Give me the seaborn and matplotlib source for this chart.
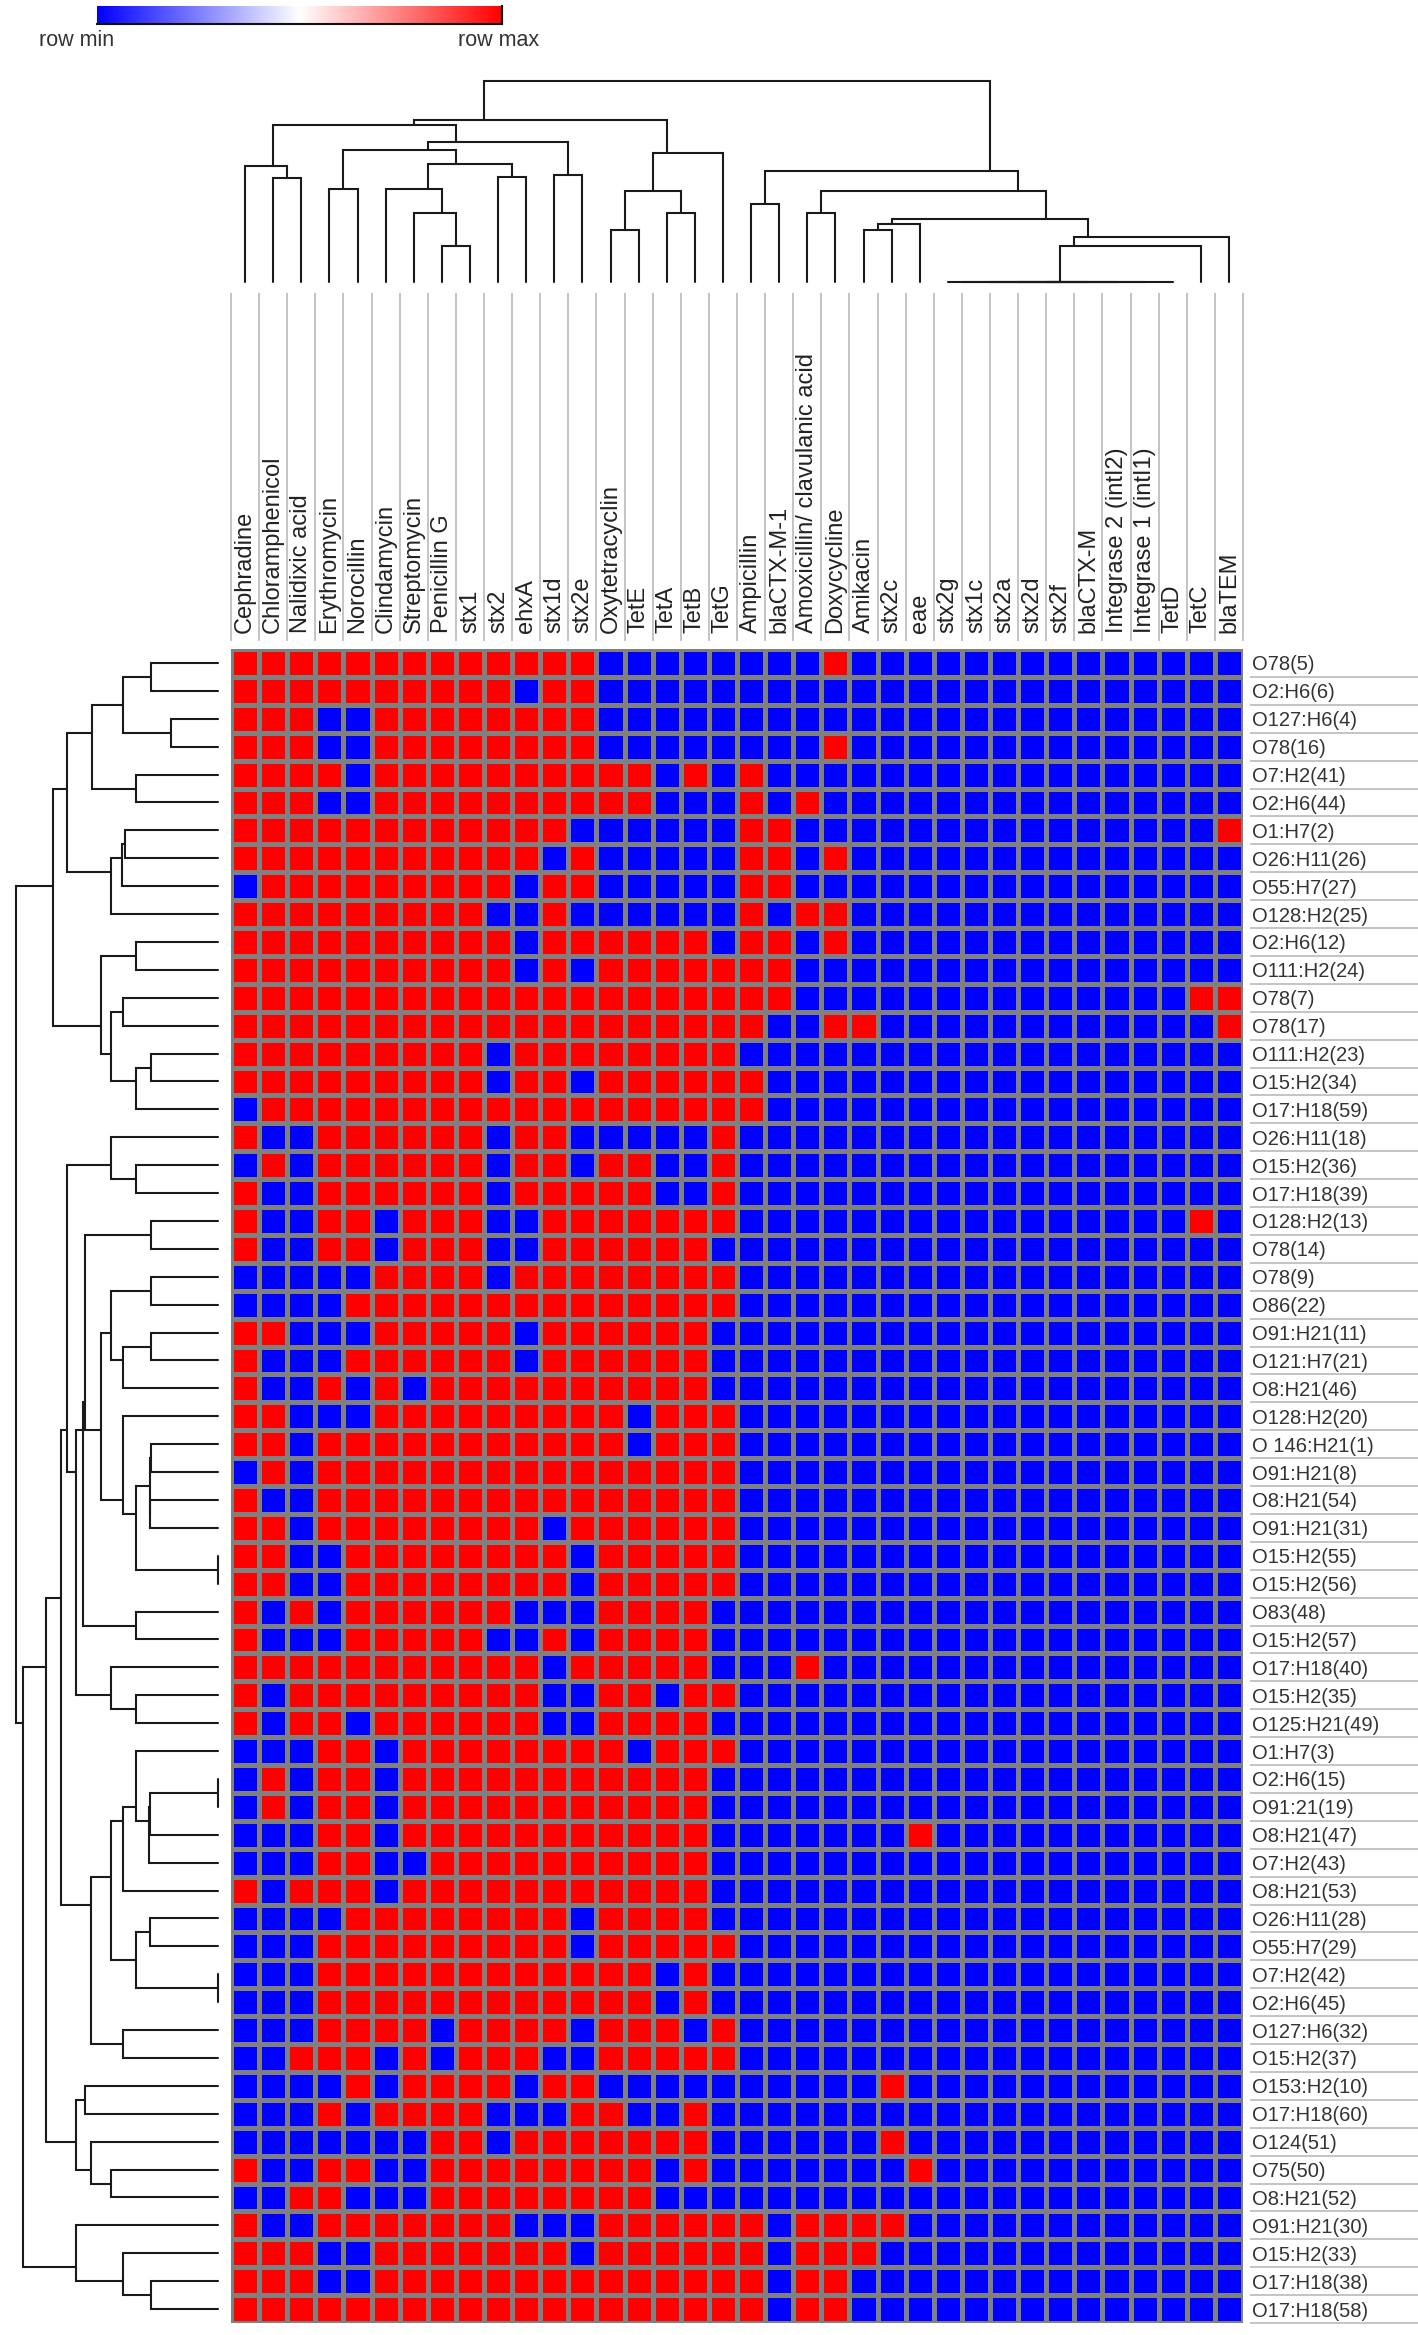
import numpy as np
import pandas as pd
import matplotlib
matplotlib.use("Agg")
import matplotlib.pyplot as plt
import seaborn as sns
from matplotlib.colors import ListedColormap, LinearSegmentedColormap

sns.set_style("white")
plt.rcParams['font.family'] = ['Liberation Sans', 'DejaVu Sans']

# ---------------- data ----------------
columns = ["Cephradine", "Chloramphenicol", "Nalidixic acid", "Erythromycin", "Norocillin",
           "Clindamycin", "Streptomycin", "Penicillin G", "stx1", "stx2", "ehxA", "stx1d",
           "stx2e", "Oxytetracyclin", "TetE", "TetA", "TetB", "TetG", "Ampicillin",
           "blaCTX-M-1", "Amoxicillin/ clavulanic acid", "Doxycycline", "Amikacin", "stx2c",
           "eae", "stx2g", "stx1c", "stx2a", "stx2d", "stx2f", "blaCTX-M",
           "Integrase 2 (intI2)", "Integrase 1 (intI1)", "TetD", "TetC", "blaTEM"]

rows = ["O78(5)", "O2:H6(6)", "O127:H6(4)", "O78(16)", "O7:H2(41)", "O2:H6(44)", "O1:H7(2)",
        "O26:H11(26)", "O55:H7(27)", "O128:H2(25)", "O2:H6(12)", "O111:H2(24)", "O78(7)",
        "O78(17)", "O111:H2(23)", "O15:H2(34)", "O17:H18(59)", "O26:H11(18)", "O15:H2(36)",
        "O17:H18(39)", "O128:H2(13)", "O78(14)", "O78(9)", "O86(22)", "O91:H21(11)",
        "O121:H7(21)", "O8:H21(46)", "O128:H2(20)", "O 146:H21(1)", "O91:H21(8)",
        "O8:H21(54)", "O91:H21(31)", "O15:H2(55)", "O15:H2(56)", "O83(48)", "O15:H2(57)",
        "O17:H18(40)", "O15:H2(35)", "O125:H21(49)", "O1:H7(3)", "O2:H6(15)", "O91:21(19)",
        "O8:H21(47)", "O7:H2(43)", "O8:H21(53)", "O26:H11(28)", "O55:H7(29)", "O7:H2(42)",
        "O2:H6(45)", "O127:H6(32)", "O15:H2(37)", "O153:H2(10)", "O17:H18(60)", "O124(51)",
        "O75(50)", "O8:H21(52)", "O91:H21(30)", "O15:H2(33)", "O17:H18(38)", "O17:H18(58)"]

# 1 = row max (red), 0 = row min (blue); groups of six columns
presence = [
    "111111 111111 100000 000100 000000 000000",
    "111111 111101 100000 000000 000000 000000",
    "111001 111111 100000 000000 000000 000000",
    "111001 111111 100000 000100 000000 000000",
    "111101 111111 111010 100000 000000 000000",
    "111001 111111 111000 101000 000000 000000",
    "111111 111111 000000 110000 000000 000001",
    "111111 111110 100000 110100 000000 000000",
    "011111 111101 100000 110000 000000 000000",
    "111111 111001 000000 101100 000000 000000",
    "111111 111101 111110 110100 000000 000000",
    "111111 111101 011111 110000 000000 000000",
    "111111 111111 111111 110000 000000 000011",
    "111111 111111 111111 100110 000000 000001",
    "111111 111011 111111 000000 000000 000000",
    "111111 111011 011111 100000 000000 000000",
    "011111 111111 111111 100000 000000 000000",
    "100111 111011 000001 000000 000000 000000",
    "010111 111011 011001 000000 000000 000000",
    "100111 111011 111001 000000 000000 000000",
    "100110 111001 111111 000000 000000 000010",
    "100110 111001 111110 000000 000000 000000",
    "000001 111011 111111 000000 000000 000000",
    "000011 111111 111111 000000 000000 000000",
    "110001 111101 111110 000000 000000 000000",
    "100011 111101 111110 000000 000000 000000",
    "100101 011111 111110 000000 000000 000000",
    "110001 111111 110111 000000 000000 000000",
    "110111 111111 110111 000000 000000 000000",
    "010111 111111 111111 000000 000000 000000",
    "100111 111111 111111 000000 000000 000000",
    "110111 111110 111111 000000 000000 000000",
    "110011 111111 011111 000000 000000 000000",
    "110011 111111 011111 000000 000000 000000",
    "101011 111100 011110 000000 000000 000000",
    "100011 111001 011110 000000 000000 000000",
    "111111 111110 111110 001000 000000 000000",
    "101111 111110 011011 000000 000000 000000",
    "101101 111110 011110 000000 000000 000000",
    "000110 111111 110111 000000 000000 000000",
    "010110 111111 111110 000000 000000 000000",
    "010110 111111 111110 000000 000000 000000",
    "000110 111111 111110 000000 100000 000000",
    "000110 011111 111110 000000 000000 000000",
    "101110 111111 111110 000000 000000 000000",
    "000011 111111 011110 000000 000000 000000",
    "000111 111111 011111 000000 000000 000000",
    "000111 111111 111010 000000 000000 000000",
    "000111 111111 111010 000000 000000 000000",
    "000111 101111 011101 000000 000000 000000",
    "001110 101110 011111 000000 000000 000000",
    "000010 111101 100000 000001 000000 000000",
    "000101 111000 110010 000000 000000 000000",
    "000000 011011 111110 000001 000000 000000",
    "100110 011111 111010 000000 100000 000000",
    "001100 011111 111000 000000 000000 000000",
    "100111 111100 011111 101111 000000 000000",
    "111001 111111 011111 101110 000000 000000",
    "111001 111111 111111 101100 000000 000000",
    "111111 111111 111111 101100 000000 000000",
]

# dendrogram trees: [left, right, merge distance]; leaves are column / row indices
zero_cols = [[[[[[[[25, 26, 0], 27, 0], 28, 0], 29, 0], 30, 0], 31, 0], 32, 0], 33, 0]
col_tree = [
    [[[0, [1, 2, 312], 348],
      [[[3, 4, 280], [[5, [6, [7, 8, 108], 208], 280], [9, 10, 315], 355], 395],
       [11, 12, 322], 420], 470],
     [[[13, 14, 157], [15, 16, 208], 272], 17, 388], 487],
    [[18, 19, 233],
     [[20, 21, 208],
      [[[22, 23, 157], 24, 175], [[zero_cols, 34, 108], 35, 135], 190], 272], 332],
    602]

row_top = [[[[[0, 1, 200], [2, 3, 140], 285], [4, 5, 247], 377],
            [[[6, 7, 280], 8, 287], 9, 320], 452],
           [[10, 11, 247], [[12, 13, 285], [[14, 15, 200], 16, 247], 320], 352], 495]
row_23_34 = [[[22, 23, 200], [[24, 25, 200], 26, 285], 320],
             [27, [[[28, 29, 200], [30, 31, 203], 205], [32, 33, 0], 247], 285], 352]
row_mid = [[17, [18, 19, 247], 320],
           [[[[20, 21, 200], row_23_34, 400], [34, 35, 247], 405],
            [36, [37, 38, 247], 320], 425], 452]
row_low = [[[[39, [[[40, 41, 0], 42, 205], 43, 207], 247], 44, 285],
             [[45, 46, 205], [47, 48, 0], 247], 320], [49, 50, 285], 380]
row_tree = [row_top,
            [[[row_mid, row_low, 472],
              [[51, 52, 400], [53, [54, 55, 320], 380], 425], 515],
             [56, [57, [58, 59, 200], 285], 425], 585],
            605]

# ---------------- figure ----------------
W, H = 1418, 2335
fig = plt.figure(figsize=(W / 100, H / 100), dpi=100)
fig.patch.set_facecolor("white")


def rect(x0, y0, x1, y1):
    return [x0 / W, 1 - y1 / H, (x1 - x0) / W, (y1 - y0) / H]


HX0, HX1, HY0, HY1 = 231, 1243, 649, 2323

mat = np.array([[int(c) for c in s.replace(" ", "")] for s in presence])
df = pd.DataFrame(mat, index=rows, columns=columns)

ax = fig.add_axes(rect(HX0, HY0, HX1, HY1))
sns.heatmap(df, ax=ax, cmap=ListedColormap(["#0000ff", "#ff0000"]), cbar=False,
            linewidths=2.2, linecolor="#808080", vmin=0, vmax=1,
            xticklabels=columns, yticklabels=rows)
ax.xaxis.tick_top()
ax.tick_params(axis="x", top=True, bottom=False, labeltop=True, labelbottom=False,
               length=0, pad=11.5, labelsize=17, labelcolor="#222222")
for t in ax.get_xticklabels():
    t.set_rotation(90)
    t.set_ha("center")
    t.set_va("bottom")
ax.yaxis.tick_right()
ax.tick_params(axis="y", right=True, left=False, labelright=True, labelleft=False,
               length=0, pad=6.5, labelsize=14.5, labelcolor="#333333")
for t in ax.get_yticklabels():
    t.set_rotation(0)
    t.set_ha("left")

ncol, nrow = len(columns), len(rows)
row_px = (HY1 - HY0) / nrow
col_px = (HX1 - HX0) / ncol
# separator lines in the label areas
ax.vlines(np.arange(ncol + 1), -(HY0 - 293) / row_px, -(HY0 - 641) / row_px,
          color="#b4b4b4", lw=1.1, clip_on=False)
ax.hlines(np.arange(1, nrow + 1), ncol + 7 / col_px, ncol + (W - HX1) / col_px,
          color="#b4b4b4", lw=1.1, clip_on=False)


def span(node):
    if isinstance(node, int):
        return node, node, 0.0
    fa, _, _ = span(node[0])
    _, lb, _ = span(node[1])
    return fa, lb, node[2]


def draw_tree(axd, node, orient):
    if isinstance(node, int):
        return
    a, b, h = node
    fa, la, ha = span(a)
    fb, lb, hb = span(b)
    pa = (fa + la) / 2 + 0.5
    pb = (fb + lb) / 2 + 0.5
    xs = [pa, pa, pb, pb]
    ys = [ha, h, h, hb]
    if orient == "top":
        axd.plot(xs, ys, color="#1a1a1a", lw=1.5, solid_joinstyle="miter", clip_on=False)
    else:
        axd.plot(ys, xs, color="#1a1a1a", lw=1.5, solid_joinstyle="miter", clip_on=False)
    draw_tree(axd, a, orient)
    draw_tree(axd, b, orient)


axt = fig.add_axes(rect(HX0, 70, HX1, 282))
draw_tree(axt, col_tree, "top")
axt.set_xlim(0, ncol)
axt.set_ylim(0, 636)
axt.axis("off")

axl = fig.add_axes(rect(5, HY0, 218, HY1))
draw_tree(axl, row_tree, "left")
axl.set_xlim(639, 0)
axl.set_ylim(nrow, 0)
axl.axis("off")

# colour key
axc = fig.add_axes(rect(97, 6, 502, 24))
cmap_key = LinearSegmentedColormap.from_list("key", ["#0000ff", "#ffffff", "#ff0000"])
axc.imshow(np.linspace(0, 1, 256)[None, :], aspect="auto", cmap=cmap_key)
axc.set_xticks([])
axc.set_yticks([])
for s in ["top", "left"]:
    axc.spines[s].set_visible(False)
for s in ["bottom", "right"]:
    axc.spines[s].set_color("#111111")
    axc.spines[s].set_linewidth(1.5)
fig.text(77 / W, 1 - 41 / H, "row min", ha="center", va="center", fontsize=15.5, color="#333333")
fig.text(499 / W, 1 - 41 / H, "row max", ha="center", va="center", fontsize=15.5, color="#333333")

fig.savefig("out.png", dpi=100, facecolor="white")
